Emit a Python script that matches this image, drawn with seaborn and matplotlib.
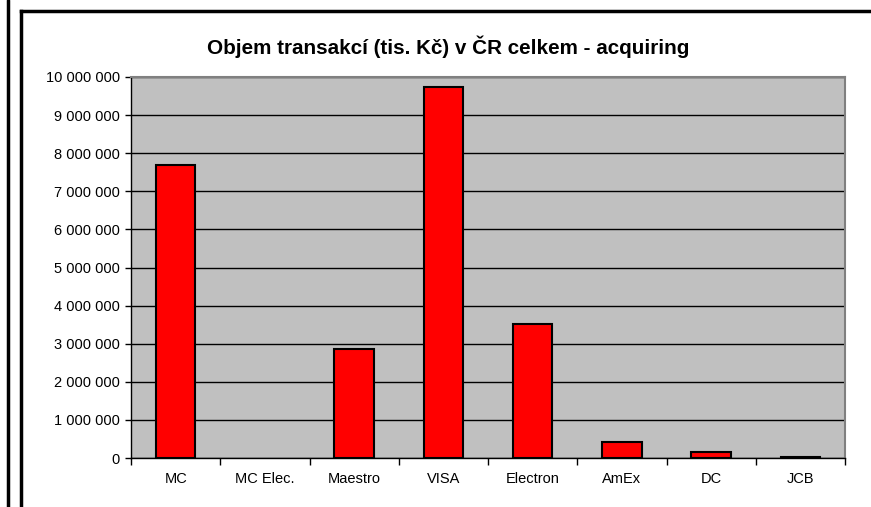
import matplotlib
matplotlib.use("Agg")
import matplotlib.pyplot as plt
from matplotlib.lines import Line2D
from matplotlib.ticker import FuncFormatter, FixedLocator
import seaborn as sns
import pandas as pd

# -----------------------------
# DATA
# -----------------------------
cards = ["MC", "MC Elec.", "Maestro", "VISA", "Electron", "AmEx", "DC", "JCB"]
volume = [7680000, 0, 2850000, 9750000, 3520000, 420000, 160000, 20000]
y_ticks = list(range(0, 10000001, 1000000))

df = pd.DataFrame({"card": cards, "volume": volume})

# -----------------------------
# STYLE
# -----------------------------
sns.set_style("white")
plt.rcParams['font.family'] = ['Liberation Sans', 'DejaVu Sans']
plt.rcParams['text.color'] = 'black'
plt.rcParams['xtick.color'] = 'black'
plt.rcParams['ytick.color'] = 'black'
plt.rcParams['axes.labelcolor'] = 'black'

fig = plt.figure(figsize=(8.71, 5.07), dpi=100)
ax = fig.add_axes([131 / 871, 1 - 458 / 507, (845 - 131) / 871, (458 - 77) / 507])
ax.set_facecolor("#C0C0C0")

sns.barplot(data=df, x="card", y="volume", ax=ax, color="#FF0000",
            edgecolor="black", linewidth=1.5, width=0.44, saturation=1, zorder=3)

# empty categories get no outline
for bar in ax.patches:
    if bar.get_height() == 0:
        bar.set_linewidth(0)

# -----------------------------
# AXES
# -----------------------------
ax.set_ylim(0, 10000000)
ax.set_xlim(-0.5, len(cards) - 0.5)
ax.set_yticks(y_ticks)
ax.yaxis.set_major_formatter(FuncFormatter(lambda v, p: f"{int(v):,}".replace(",", " ")))
ax.set_xlabel("")
ax.set_ylabel("")

ax.yaxis.grid(True, color="black", linewidth=1, zorder=1)
ax.set_axisbelow(True)

ax.tick_params(axis="y", labelsize=10.5, length=4, width=1, direction="out", left=True, pad=4)
ax.tick_params(axis="x", labelsize=10.5, length=0, pad=10)
ax.xaxis.set_minor_locator(FixedLocator([i + 0.5 for i in range(-1, len(cards))]))
ax.tick_params(axis="x", which="minor", length=5, width=1, direction="out", bottom=True)

for side in ["top", "right"]:
    ax.spines[side].set_visible(True)
    ax.spines[side].set_color("#808080")
    ax.spines[side].set_linewidth(1.5)
for side in ["left", "bottom"]:
    ax.spines[side].set_color("black")
    ax.spines[side].set_linewidth(1)

fig.text(448 / 871, 1 - 47 / 507, "Objem transakcí (tis. Kč) v ČR celkem - acquiring",
         ha="center", va="center", fontsize=14.9, fontweight="bold", color="black")

# -----------------------------
# FRAME LINES
# -----------------------------
fig.add_artist(Line2D([8 / 871, 8 / 871], [0, 1], color="black", linewidth=2.5,
                      transform=fig.transFigure))
fig.add_artist(Line2D([20.5 / 871, 20.5 / 871], [0, 1 - 10.5 / 507], color="black",
                      linewidth=2.5, transform=fig.transFigure, solid_capstyle="projecting"))
fig.add_artist(Line2D([20.5 / 871, 1], [1 - 10.5 / 507, 1 - 10.5 / 507], color="black",
                      linewidth=2.5, transform=fig.transFigure, solid_capstyle="projecting"))

fig.savefig("out.png", dpi=100, facecolor="white")
